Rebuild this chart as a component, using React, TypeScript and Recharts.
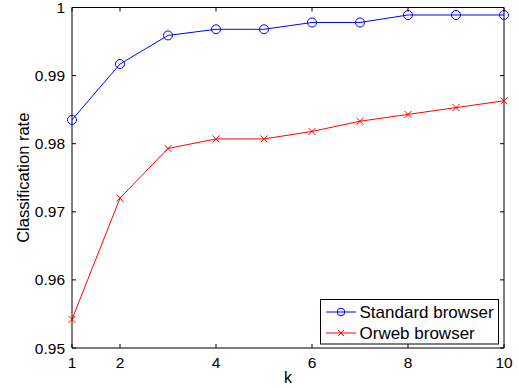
import React from 'react';
import { LineChart, Line, XAxis, YAxis, Legend } from 'recharts';

const kValues = [1, 2, 3, 4, 5, 6, 7, 8, 9, 10];
const standardBrowser = [0.9835, 0.9917, 0.9959, 0.9968, 0.9968, 0.9978, 0.9978, 0.9989, 0.9989, 0.9989];
const orwebBrowser = [0.9542, 0.972, 0.9793, 0.9807, 0.9807, 0.9818, 0.9833, 0.9843, 0.9853, 0.9863];
const xTicks = [1, 2, 4, 6, 8, 10];
const yTicks = [0.95, 0.96, 0.97, 0.98, 0.99, 1];
const seriesNames = ['Standard browser', 'Orweb browser'];

const data = kValues.map((k, i) => ({ k, standard: standardBrowser[i], orweb: orwebBrowser[i] }));

const FONT = '"Liberation Sans", Arial, Helvetica, sans-serif';
const BLUE = '#0000ff';
const RED = '#ff0000';
const TICK_LEN = 4;

const fmtY = (v: number) => (v === 1 ? '1' : v.toFixed(2));

const BottomTick = (p: any) => (
  <g>
    <line x1={p.x} y1={p.y} x2={p.x} y2={p.y - TICK_LEN} stroke="#000" strokeWidth={1} />
    <text x={p.x} y={p.y + 19.5} textAnchor="middle" fontSize={15.5} fontFamily={FONT} fill="#000">
      {p.payload.value}
    </text>
  </g>
);
const TopTick = (p: any) => (
  <line x1={p.x} y1={p.y} x2={p.x} y2={p.y + TICK_LEN} stroke="#000" strokeWidth={1} />
);
const LeftTick = (p: any) => (
  <g>
    <line x1={p.x} y1={p.y} x2={p.x + TICK_LEN} y2={p.y} stroke="#000" strokeWidth={1} />
    <text x={p.x - 7} y={p.y + 5.5} textAnchor="end" fontSize={15.5} fontFamily={FONT} fill="#000">
      {fmtY(p.payload.value)}
    </text>
  </g>
);
const RightTick = (p: any) => (
  <line x1={p.x} y1={p.y} x2={p.x - TICK_LEN} y2={p.y} stroke="#000" strokeWidth={1} />
);

const CircleDot = (p: any) => (
  <circle key={`c${p.index}`} cx={p.cx} cy={p.cy} r={4.5} stroke={BLUE} strokeWidth={1} fill="none" />
);
const CrossDot = (p: any) => (
  <g key={`x${p.index}`}>
    <line x1={p.cx - 3.5} y1={p.cy - 3.5} x2={p.cx + 3.5} y2={p.cy + 3.5} stroke={RED} strokeWidth={1} />
    <line x1={p.cx - 3.5} y1={p.cy + 3.5} x2={p.cx + 3.5} y2={p.cy - 3.5} stroke={RED} strokeWidth={1} />
  </g>
);

const LegendBox = () => (
  <svg width={180} height={46} style={{ display: 'block' }}>
    <rect x={0.5} y={0.5} width={178} height={44.5} fill="#fff" stroke="#000" strokeWidth={1} />
    <line x1={6} y1={13} x2={36} y2={13} stroke={BLUE} strokeWidth={1} />
    <circle cx={21} cy={13} r={3.8} stroke={BLUE} fill="none" strokeWidth={1} />
    <text x={39.5} y={19} fontSize={17} fontFamily={FONT} fill="#000">{seriesNames[0]}</text>
    <line x1={6} y1={34} x2={36} y2={34} stroke={RED} strokeWidth={1} />
    <line x1={18} y1={31} x2={24} y2={37} stroke={RED} strokeWidth={1} />
    <line x1={18} y1={37} x2={24} y2={31} stroke={RED} strokeWidth={1} />
    <text x={39.5} y={40} fontSize={17} fontFamily={FONT} fill="#000">{seriesNames[1]}</text>
  </svg>
);

const YLabel = (p: any) => {
  const vb = p.viewBox || { x: 0, y: 0, width: 72, height: 340 };
  const cx = vb.x + 28.5;
  const cy = vb.y + vb.height / 2;
  return (
    <text x={cx} y={cy} transform={`rotate(-90 ${cx} ${cy})`} textAnchor="middle" fontSize={16.5} fontFamily={FONT} fill="#000">
      Classification rate
    </text>
  );
};
const XLabel = (p: any) => {
  const vb = p.viewBox || { x: 72, y: 348, width: 432, height: 40 };
  return (
    <text x={vb.x + vb.width / 2} y={vb.y + 35} textAnchor="middle" fontSize={16} fontFamily={FONT} fill="#000">
      k
    </text>
  );
};

export default function App() {
  return (
    <div style={{ position: 'absolute', left: 0, top: 0, width: 519, height: 388, background: '#fff' }}>
      <LineChart width={519} height={388} data={data} margin={{ top: 0, right: 0, bottom: 0, left: 0 }}>
        <XAxis
          xAxisId="b"
          dataKey="k"
          type="number"
          domain={[1, 10]}
          ticks={xTicks}
          interval={0}
          orientation="bottom"
          height={40}
          tickSize={0}
          tickMargin={0}
          tickLine={false}
          tick={BottomTick}
          axisLine={{ stroke: '#000', strokeWidth: 1 }}
          label={{ content: XLabel }}
        />
        <XAxis
          xAxisId="t"
          dataKey="k"
          type="number"
          domain={[1, 10]}
          ticks={xTicks}
          interval={0}
          orientation="top"
          height={7.5}
          tickSize={0}
          tickMargin={0}
          tickLine={false}
          tick={TopTick}
          axisLine={{ stroke: '#000', strokeWidth: 1 }}
        />
        <YAxis
          yAxisId="l"
          type="number"
          domain={[0.95, 1]}
          ticks={yTicks}
          interval={0}
          orientation="left"
          width={72}
          tickSize={0}
          tickMargin={0}
          tickLine={false}
          tick={LeftTick}
          allowDataOverflow
          axisLine={{ stroke: '#000', strokeWidth: 1 }}
          label={{ content: YLabel }}
        />
        <YAxis
          yAxisId="r"
          type="number"
          domain={[0.95, 1]}
          ticks={yTicks}
          interval={0}
          orientation="right"
          width={15}
          tickSize={0}
          tickMargin={0}
          tickLine={false}
          tick={RightTick}
          allowDataOverflow
          axisLine={{ stroke: '#000', strokeWidth: 1 }}
        />
        <Legend
          content={LegendBox}
          layout="vertical"
          align="center"
          verticalAlign="middle"
          wrapperStyle={{ position: 'absolute', left: 320, top: 299, width: 180, height: 46 }}
        />
        <Line
          xAxisId="b"
          yAxisId="l"
          type="linear"
          dataKey="standard"
          name={seriesNames[0]}
          stroke={BLUE}
          strokeWidth={1}
          dot={CircleDot}
          activeDot={false}
          isAnimationActive={false}
        />
        <Line
          xAxisId="b"
          yAxisId="l"
          type="linear"
          dataKey="orweb"
          name={seriesNames[1]}
          stroke={RED}
          strokeWidth={1}
          dot={CrossDot}
          activeDot={false}
          isAnimationActive={false}
        />
      </LineChart>
    </div>
  );
}
